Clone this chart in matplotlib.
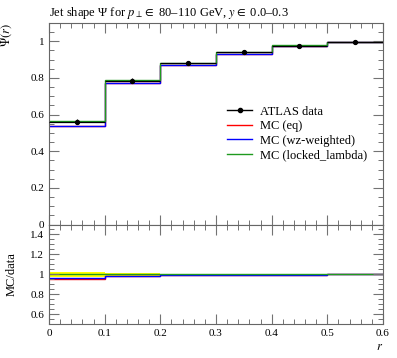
import numpy as np
import matplotlib.pyplot as plt
from matplotlib.ticker import MultipleLocator
from matplotlib.lines import Line2D

# ---- data ----
edges = [0.0, 0.1, 0.2, 0.3, 0.4, 0.5, 0.6]
data_vals = [0.562, 0.786, 0.881, 0.939, 0.977, 0.998]
data_err = [0.013, 0.012, 0.006, 0.004, 0.002, 0.001]
mc_eq = [0.537, 0.770, 0.872, 0.932, 0.974, 0.998]
mc_wz = [0.538, 0.771, 0.873, 0.933, 0.974, 0.998]
mc_locked = [0.565, 0.788, 0.882, 0.940, 0.978, 0.998]

plt.rcParams['font.family'] = ['Liberation Serif', 'DejaVu Serif']
plt.rcParams['mathtext.fontset'] = 'stix'
plt.rcParams['font.size'] = 9

edges = np.array(edges)
centers = 0.5 * (edges[:-1] + edges[1:])
half = 0.5 * np.diff(edges)
d = np.array(data_vals)
e = np.array(data_err)

fig = plt.figure(figsize=(3.97, 3.58), dpi=100)
ax = fig.add_axes([0.1234, 0.3729, 0.8413, 0.5629])
rax = fig.add_axes([0.1234, 0.0950, 0.8413, 0.2779], sharex=ax)

series = [(mc_eq, 'red', 'MC (eq)'),
          (mc_wz, 'blue', 'MC (wz-weighted)'),
          (mc_locked, '#1f9a1f', 'MC (locked_lambda)')]

# main panel
handles = [Line2D([], [], color='black', lw=1.0, marker='o', ms=3)]
labels = ['ATLAS data']
for vals, col, lab in series:
    ax.stairs(vals, edges, baseline=None, color=col, lw=1.0)
    handles.append(Line2D([], [], color=col, lw=1.0))
    labels.append(lab)
ax.errorbar(centers, d, xerr=half, yerr=e, fmt='o', color='black', ms=2.8,
            lw=0.9, capsize=0, zorder=5)

ax.legend(handles, labels, frameon=False, loc='upper left',
          bbox_to_anchor=(0.515, 0.62), handlelength=2.0,
          handletextpad=0.65, labelspacing=0.2, fontsize=9, borderpad=0)

ax.set_xlim(0, 0.6)
ax.set_ylim(0, 1.1)
ax.set_title(r'Jet shape Ψ for $p_\perp \in$ 80–110 GeV, $y \in$ 0.0–0.3',
             loc='left', fontsize=9, pad=5)
ax.set_ylabel(r'$\Psi(r)$', loc='top')
ax.yaxis.set_label_coords(-0.105, 1.0)

# ratio panel
lo = 1 - e / d
hi = 1 + e / d
rax.stairs(hi, edges, baseline=lo, fill=True, color='yellow', lw=0)
for vals, col, lab in series:
    rax.stairs(np.array(vals) / d, edges, baseline=None, color=col, lw=1.0)
rax.set_ylim(0.5, 1.5)
rax.set_ylabel('MC/data')
rax.yaxis.set_label_coords(-0.095, 0.5)
rax.set_xlabel('$r$', loc='right', labelpad=2)

for a in (ax, rax):
    a.xaxis.set_major_locator(MultipleLocator(0.1))
    a.xaxis.set_minor_locator(MultipleLocator(0.02))
    a.yaxis.set_minor_locator(MultipleLocator(0.05))
    a.tick_params(which='both', direction='in', top=True, right=True,
                  color='0.45', labelsize=8)
    a.tick_params(which='major', length=7, width=0.8, pad=3.5)
    a.tick_params(which='minor', length=3.6, width=0.7)
    for s in a.spines.values():
        s.set_color('0.4')
        s.set_linewidth(0.8)
ax.yaxis.set_major_locator(MultipleLocator(0.2))
rax.yaxis.set_major_locator(MultipleLocator(0.2))
ax.tick_params(labelbottom=False)

fmt = plt.FuncFormatter(lambda v, p: '%g' % round(v, 2))
ax.yaxis.set_major_formatter(fmt)
rax.yaxis.set_major_formatter(fmt)
rax.xaxis.set_major_formatter(fmt)

fig.savefig('out.png', dpi=100)
